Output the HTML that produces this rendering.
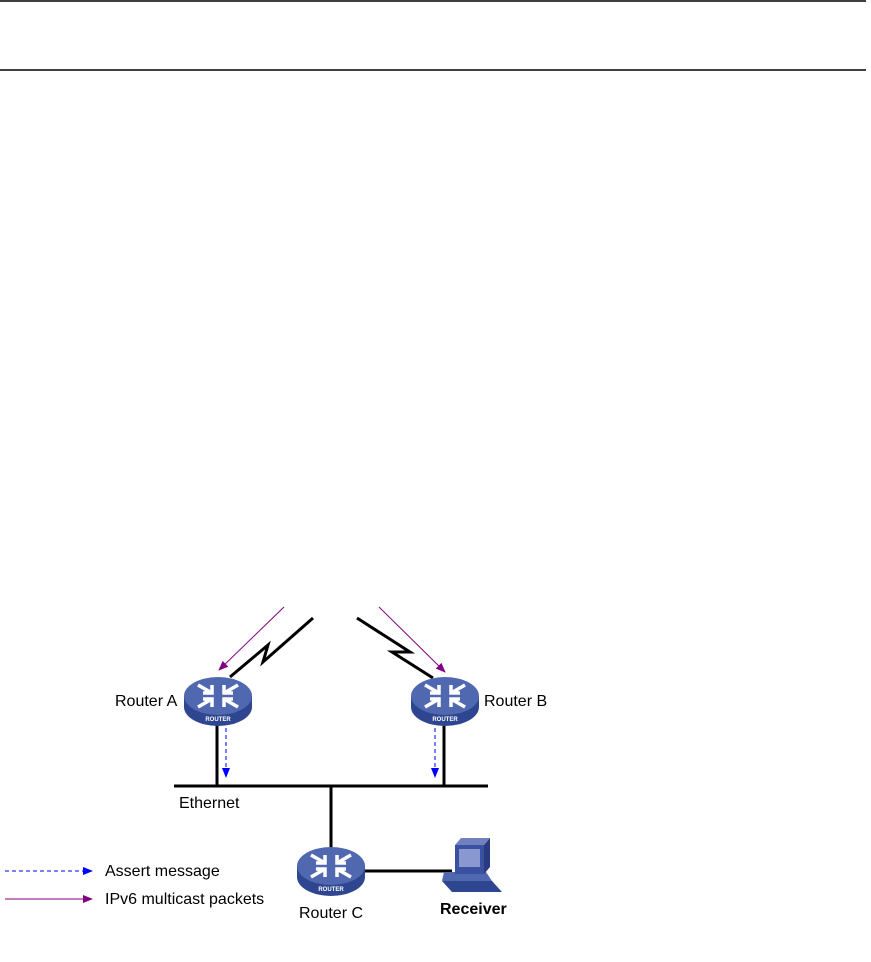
<!DOCTYPE html>
<html><head><meta charset="utf-8"><style>
html,body{margin:0;padding:0;background:#fff;width:871px;height:962px;overflow:hidden}
svg{display:block}
text{font-family:"Liberation Sans",Arial,sans-serif;font-size:16px;fill:#000}
</style></head><body>
<svg width="871" height="962" viewBox="0 0 871 962" xmlns="http://www.w3.org/2000/svg">
<defs>
<marker id="pa" markerWidth="10" markerHeight="8" refX="9" refY="4" orient="auto" markerUnits="userSpaceOnUse"><path d="M0,0 L10,4 L0,8 z" fill="#800080"/></marker>
<marker id="ba" markerWidth="10" markerHeight="8" refX="9" refY="4" orient="auto" markerUnits="userSpaceOnUse"><path d="M0,0 L10,4 L0,8 z" fill="#0000ff"/></marker>
<g id="rt">
<path d="M-34,0 L-34,11 A34,19 0 0 0 34,11 L34,0 Z" fill="#2e4590"/>
<ellipse cx="0" cy="0" rx="34" ry="19" fill="#5068b0"/>
<g stroke="#fff" stroke-width="3.5" fill="none">
<path d="M-20,-11 L-6,-3 M-6,-11 L-6,-3 L-15,-3"/>
<path d="M20,-11 L6,-3 M6,-11 L6,-3 L15,-3"/>
<path d="M-20,11 L-6,3 M-6,11 L-6,3 L-15,3"/>
<path d="M20,11 L6,3 M6,11 L6,3 L15,3"/>
</g>
<text x="0" y="25" text-anchor="middle" style="font-size:6px;fill:#fff;font-weight:bold">ROUTER</text>
</g>
</defs>
<line x1="0" y1="1" x2="866" y2="1" stroke="#000" stroke-width="1.5"/>
<line x1="0" y1="70" x2="866" y2="70" stroke="#000" stroke-width="1.5"/>

<g stroke="#000" stroke-width="3" fill="none">
<polyline points="230,677 268,645 263,662 313,618"/>
<polyline points="357,618 410,652 392,652 433,678"/>
<line x1="217" y1="720" x2="217" y2="786"/>
<line x1="444" y1="720" x2="444" y2="786"/>
<line x1="174" y1="786" x2="488" y2="786"/>
<line x1="331" y1="786" x2="331" y2="852"/>
<line x1="362" y1="871" x2="452" y2="871"/>
</g>
<line x1="284" y1="607" x2="219" y2="670" stroke="#800080" stroke-width="1" marker-end="url(#pa)"/>
<line x1="379" y1="607" x2="445" y2="672" stroke="#800080" stroke-width="1" marker-end="url(#pa)"/>
<line x1="226" y1="728" x2="226" y2="777" stroke="#0000ff" stroke-width="1" stroke-dasharray="4,3" marker-end="url(#ba)"/>
<line x1="435" y1="728" x2="435" y2="777" stroke="#0000ff" stroke-width="1" stroke-dasharray="4,3" marker-end="url(#ba)"/>

<use href="#rt" x="218" y="696"/>
<use href="#rt" x="445" y="696"/>
<use href="#rt" x="331" y="866"/>

<!-- receiver -->
<g>
<path d="M442,881 L492,881 L502,892 L452,892 Z" fill="#2e4590"/>
<path d="M444,872 L486,872 L492,881 L442,881 Z" fill="#5068b0"/>
<path d="M455,845 L461,838 L490,838 L484,845 Z" fill="#7080c0"/>
<rect x="455" y="845" width="29" height="29" fill="#3a50a0"/>
<path d="M484,845 L490,838 L490,867 L484,874 Z" fill="#2a3a80"/>
<rect x="459" y="849" width="21" height="18" fill="#8a98d0"/>
</g>

<line x1="5" y1="871" x2="92" y2="871" stroke="#0000ff" stroke-width="1" stroke-dasharray="4,3" marker-end="url(#ba)"/>
<line x1="5" y1="899" x2="92" y2="899" stroke="#800080" stroke-width="1" marker-end="url(#pa)"/>
<text x="105" y="876">Assert message</text>
<text x="105" y="904">IPv6 multicast packets</text>
<text x="115" y="706">Router A</text>
<text x="484" y="706">Router B</text>
<text x="179" y="808">Ethernet</text>
<text x="299" y="918">Router C</text>
<text x="440" y="914" style="font-weight:bold">Receiver</text>
</svg>
</body></html>
